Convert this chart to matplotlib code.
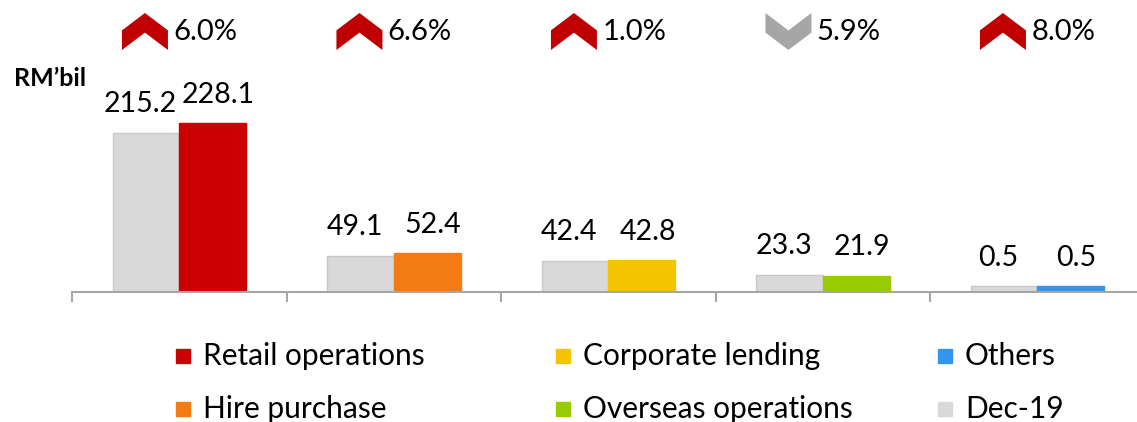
import matplotlib.pyplot as plt
from matplotlib.patches import Polygon, Rectangle

W, H = 1137, 422

# ---- Data
categories = ["Retail operations", "Hire purchase", "Corporate lending",
              "Overseas operations", "Others"]
dec19 = [215.2, 49.1, 42.4, 23.3, 0.5]
current = [228.1, 52.4, 42.8, 21.9, 0.5]
growth = ["6.0%", "6.6%", "1.0%", "5.9%", "8.0%"]
growth_up = [True, True, True, False, True]

colors = ["#CC0000", "#F47A14", "#F5C400", "#99CC00", "#3395EE"]
GRAY = "#D9D9D9"
FONT = "Lato"

plt.rcParams["font.family"] = [FONT, "DejaVu Sans"]

fig = plt.figure(figsize=(W / 100, H / 100), dpi=100)


def px(x, y):
    # top-left pixel -> figure fraction
    return x / W, 1 - y / H


base_y = 292
scale = 0.741  # px per RM'bil
ax = fig.add_axes([72 / W, 1 - base_y / H, 214.5 * 5 / W, base_y / H])
ax.set_xlim(-0.5, 4.5)
ax.set_ylim(0, base_y / scale)

x = range(len(categories))
bw = 0.312
# keep the tiny "Others" segments visible like the original
min_h = 8
h_old = [max(v, min_h) for v in dec19]
h_new = [max(v, min_h) for v in current]

ax.bar([i - 0.155 for i in x], h_old, width=bw, color=GRAY,
       edgecolor="#C8C8C8", linewidth=1)
ax.bar([i + 0.157 for i in x], h_new, width=bw, color=colors,
       edgecolor=colors, linewidth=1)

for i in x:
    ax.annotate(f"{dec19[i]:.1f}", (i - 0.155, h_old[i]), xytext=(-4, 11),
                textcoords="offset points", ha="center", va="bottom",
                fontsize=20.5)
    ax.annotate(f"{current[i]:.1f}", (i + 0.157, h_new[i]), xytext=(4, 11),
                textcoords="offset points", ha="center", va="bottom",
                fontsize=20.5)

# chevrons + growth text
cw = 46 / 214.5
ch = 37 / scale
ytop = (base_y - 13) / scale
for i in x:
    cx0 = i - 0.16 - cw / 2
    yb = ytop - ch
    if growth_up[i]:
        pts = [(0, 0), (0, 0.53), (0.5, 1), (1, 0.53), (1, 0), (0.5, 0.47)]
        col = "#C00000"
    else:
        pts = [(0, 1), (0, 0.47), (0.5, 0), (1, 0.47), (1, 1), (0.5, 0.53)]
        col = "#A6A6A6"
    poly = Polygon([(cx0 + a * cw, yb + b * ch) for a, b in pts],
                   closed=True, color=col, clip_on=False, lw=0)
    ax.add_patch(poly)
    ax.text(cx0 + cw + 0.025, yb + ch * 0.5, growth[i], ha="left",
            va="center", fontsize=21)

for s in ["left", "top", "right"]:
    ax.spines[s].set_visible(False)
ax.spines["bottom"].set_color("#A6A6A6")
ax.spines["bottom"].set_linewidth(1.5)
ax.set_yticks([])
ax.set_xticks([i - 0.5 for i in x])
ax.set_xticklabels([])
ax.tick_params(axis="x", direction="out", length=7, width=1.5,
               color="#A6A6A6")

fig.text(*px(14, 78), "RM\u2019bil", fontsize=18, fontweight="bold",
         ha="left", va="center")

# ---- Legend (manual grid, 2 rows x 3 columns)
leg_items = [(categories[0], colors[0]), (categories[1], colors[1]),
             (categories[2], colors[2]), (categories[3], colors[3]),
             (categories[4], colors[4]), ("Dec-19", GRAY)]
col_x = [176, 556, 938]
row_y = [356, 409]
for k, (lab, c) in enumerate(leg_items):
    cx, ry = col_x[k // 2], row_y[k % 2]
    fx, fy = px(cx, ry + 7)
    fig.add_artist(Rectangle((fx, fy), 14 / W, 14 / H, color=c,
                             transform=fig.transFigure))
    fig.text(*px(cx + 27, ry), lab, fontsize=21.5, ha="left", va="center")

fig.savefig("out.png", dpi=100)
